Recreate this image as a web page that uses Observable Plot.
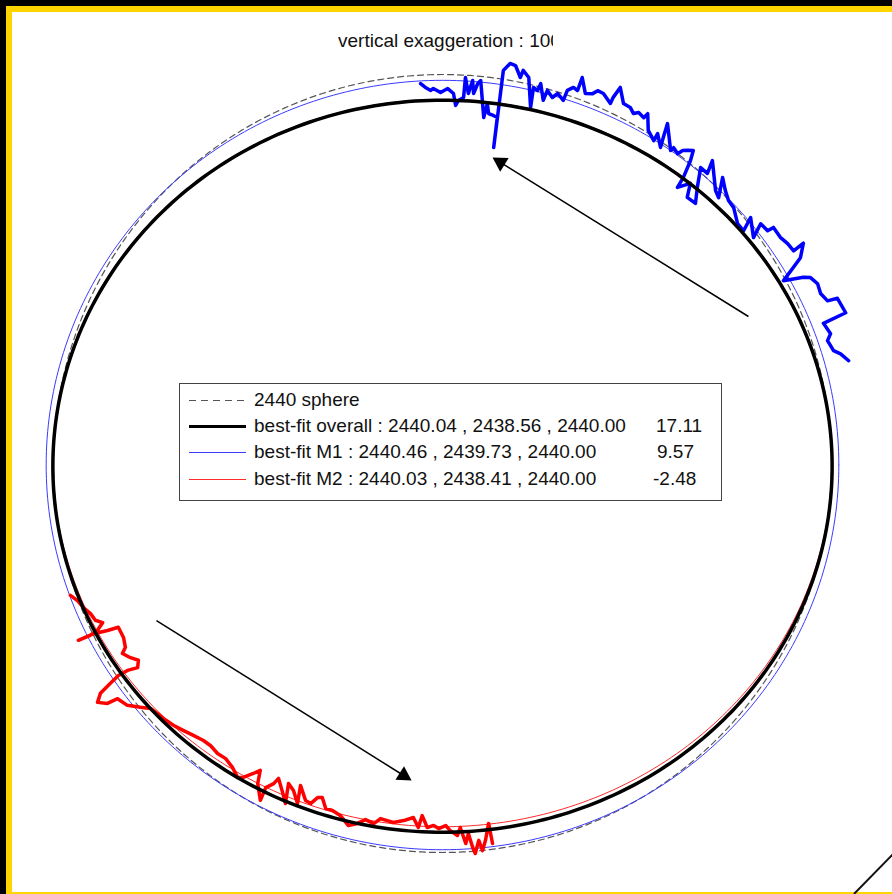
<!DOCTYPE html>
<html><head><meta charset="utf-8">
<script src="https://cdn.jsdelivr.net/npm/d3@7"></script>
<script src="https://cdn.jsdelivr.net/npm/@observablehq/plot@0.6"></script>
<style>
html,body{margin:0;padding:0;background:#fff;}
#wrap{position:relative;width:892px;height:894px;overflow:hidden;font-family:"Liberation Sans",Arial,sans-serif;color:#111;}
#chart{position:absolute;left:0;top:0;}
.deco{position:absolute;}
#title{position:absolute;left:338px;top:29px;width:215px;overflow:hidden;white-space:nowrap;font-size:19px;line-height:24px;}
#legend{position:absolute;left:179px;top:383px;width:541px;height:116px;border:1px solid #444;background:#fff;font-size:19px;}
.row{position:absolute;left:0;width:100%;height:22px;line-height:22px;white-space:nowrap;}
.sample{position:absolute;left:9px;width:57px;top:11px;}
.lbl{position:absolute;left:74px;top:0;}
.num{position:absolute;top:0;}
</style>
</head><body>
<div id="wrap">
  <div id="chart"></div>
  <div id="title">vertical exaggeration : 100</div>
  <div id="legend"></div>
  <div class="deco" style="left:0;top:0;width:892px;height:6px;background:#000"></div>
  <div class="deco" style="left:0;top:0;width:6px;height:894px;background:#000"></div>
  <div class="deco" style="left:6px;top:6px;width:886px;height:6px;background:#FFD500"></div>
  <div class="deco" style="left:6px;top:6px;width:6px;height:888px;background:#FFD500"></div>
  <div class="deco" style="left:6px;top:892px;width:886px;height:2px;background:#FFD500"></div>
  <div class="deco" style="left:854px;top:893px;width:56px;height:2px;background:#111;transform-origin:0 50%;transform:rotate(-45.7deg)"></div>
</div>
<script>
// ---- data ----
const R0 = 2440;          // reference sphere radius (km)
const EXAG = 100;         // vertical exaggeration
const fitNames = ["best-fit overall", "best-fit M1", "best-fit M2"];
const fitA = [2440.04, 2440.46, 2440.03];
const fitB = [2438.56, 2439.73, 2438.41];
const fitC = [2440.00, 2440.00, 2440.00];
const fitOffset = [17.11, 9.57, -2.48];
const fitColors = ["#000000", "#3a3aff", "#ff2a2a"];

// M1 track: polar angle (deg) and elevation relative to 2440 km (km)
const m1Angle = [93.3,92.6,91.8,91.4,90.3,89.2,88.3,87.9,87.5,86.7,86.6,86.0,85.5,85.2,84.7,84.3,83.2,82.9,82.5,81.7,81.0,80.8,81.2,80.4,79.6,78.6,78.4,77.4,76.1,76.4,75.7,75.5,74.5,74.3,73.3,72.7,71.6,71.5,70.8,70.1,70.1,68.9,67.9,67.4,66.5,65.0,65.0,64.7,63.3,62.2,61.4,60.8,59.8,59.6,58.3,56.8,56.9,55.4,55.9,56.5,53.9,53.8,52.8,52.5,52.0,51.3,50.7,49.9,49.6,48.5,47.4,45.8,47.3,48.9,47.6,48.3,45.0,43.9,45.6,44.0,42.6,41.3,39.1,37.7,38.6,36.0,37.0,35.6,35.5,33.8,32.5,31.2,31.4,29.9,29.2,28.2,27.3,26.8,25.6,24.2,22.9,22.7,20.5,20.2,18.5,17.7,16.1,15.4,14.2];
const m1Elev = [-0.53,-0.79,-0.99,-0.87,-1.13,-0.88,-1.18,-1.93,-1.61,-1.40,-0.15,-1.13,-0.30,-1.11,-0.46,-0.26,-2.55,-1.64,-2.26,-2.34,-2.43,-4.32,0.55,1.05,0.98,0.30,0.77,0.41,-1.40,-0.13,-0.26,0.21,-0.76,-0.09,-0.43,-0.09,-0.40,0.28,0.58,0.48,1.35,0.48,0.64,0.93,0.91,0.52,0.94,1.69,0.87,0.85,0.61,0.82,0.70,1.04,0.16,-0.20,0.31,-0.32,0.31,1.17,-0.11,0.15,0.00,0.34,0.53,0.76,0.16,-0.94,-1.66,-0.94,-1.72,-1.64,-0.83,0.23,0.24,1.05,-0.18,-0.36,0.71,0.26,-0.03,-0.09,-0.55,-0.53,0.33,-0.29,0.59,0.68,1.10,1.10,1.27,1.35,2.12,1.50,0.82,-0.13,1.07,1.46,1.69,1.60,1.82,2.45,2.60,1.06,1.27,0.95,1.13,1.50,1.88];

// M2 track
const m2Angle = [199.5,200.6,201.9,203.1,204.3,205.1,205.8,206.0,205.9,206.0,206.5,206.8,208.6,210.1,210.7,211.9,212.9,213.8,213.3,213.2,213.5,213.9,214.7,215.6,215.9,217.5,218.9,220.0,221.3,222.4,224.2,225.9,227.5,229.2,230.6,232.2,233.7,235.4,236.9,237.6,238.6,239.3,240.0,241.6,241.4,242.2,242.5,244.1,245.2,244.3,245.5,246.9,246.2,247.9,248.8,249.5,250.2,251.3,252.4,253.8,255.4,256.7,257.8,259.2,260.1,262.2,263.8,265.3,266.2,266.7,267.6,268.6,269.4,270.5,271.2,272.3,272.8,273.5,274.0,274.5,274.8,275.5,275.9,276.5,277.3,277.5];
const m2Elev = [0.36,0.06,-0.14,-0.40,-0.51,-0.86,-0.36,0.18,0.99,-0.05,-0.92,-1.62,-1.61,-1.41,-1.05,-1.35,-1.68,-1.39,-0.76,-0.11,0.58,1.45,1.92,1.45,0.76,0.52,-0.05,-0.49,-0.62,-0.69,-0.85,-1.07,-1.27,-1.45,-1.49,-1.38,-1.43,-1.22,-0.88,-1.08,-1.62,-2.01,-1.22,-0.38,-1.24,-1.70,-2.13,-1.45,-0.91,-2.13,-1.86,-1.22,-2.33,-1.58,-1.52,-2.03,-2.14,-1.55,-1.57,-1.41,-0.94,-1.20,-1.55,-1.40,-1.79,-1.67,-1.87,-2.12,-1.52,-2.28,-1.55,-1.69,-1.50,-1.69,-1.37,-1.05,-1.54,-0.52,-1.13,-0.24,0.15,-0.65,0.01,-0.60,-1.64,-0.36];

// annotation arrows (plot km coordinates)
const arrowTailX = [1919, -1794];
const arrowTailY = [922, -985];
const arrowTipX = [314, -194];
const arrowTipY = [1919, -1988];

// ---- frame ----
const W = 892, H = 894;
const PX_PER_KM = 389 / R0;
const CX = 442, CY = 463;
const xDomain = [-CX / PX_PER_KM, (W - CX) / PX_PER_KM];
const yDomain = [-(H - CY) / PX_PER_KM, CY / PX_PER_KM];

const rad = Math.PI / 180;
function ellipse(a, b, off) {
  const A = R0 + EXAG * (a - R0), B = R0 + EXAG * (b - R0);
  return d3.range(0, 361, 1).map(t => ({x: A * Math.cos(t * rad), y: B * Math.sin(t * rad) - off}));
}
function track(ang, elev) {
  return ang.map((t, i) => {
    const R = R0 + EXAG * elev[i];
    return {x: R * Math.cos(t * rad), y: R * Math.sin(t * rad)};
  });
}
const sphere = ellipse(R0, R0, 0);
const fits = fitNames.map((n, i) => ellipse(fitA[i], fitB[i], fitOffset[i]));
const m1 = track(m1Angle, m1Elev);
const m2 = track(m2Angle, m2Elev);

const headBack = 9.3 / PX_PER_KM;
const arrows = arrowTailX.map((x, i) => {
  const dx = arrowTipX[i] - x, dy = arrowTipY[i] - arrowTailY[i];
  const L = Math.hypot(dx, dy);
  return {x1: x, y1: arrowTailY[i], hx: arrowTipX[i] - dx / L * headBack, hy: arrowTipY[i] - dy / L * headBack,
          rot: Math.atan2(dx, dy) / rad};
});

const chart = Plot.plot({
  width: W, height: H, margin: 0,
  x: {domain: xDomain, axis: null},
  y: {domain: yDomain, axis: null},
  style: {background: "transparent"},
  marks: [
    Plot.line(sphere, {x: "x", y: "y", stroke: "#555", strokeWidth: 1.2, strokeDasharray: "6,4"}),
    Plot.line(fits[1], {x: "x", y: "y", stroke: fitColors[1], strokeWidth: 1}),
    Plot.line(fits[2], {x: "x", y: "y", stroke: fitColors[2], strokeWidth: 1}),
    Plot.line(m1, {x: "x", y: "y", stroke: "#0000ff", strokeWidth: 3.5, strokeLinejoin: "round"}),
    Plot.line(m2, {x: "x", y: "y", stroke: "#ff0000", strokeWidth: 3.5, strokeLinejoin: "round"}),
    Plot.line(fits[0], {x: "x", y: "y", stroke: fitColors[0], strokeWidth: 3.5}),
    Plot.link(arrows, {x1: "x1", y1: "y1", x2: "hx", y2: "hy", stroke: "#000", strokeWidth: 1.5}),
    Plot.dot(arrows, {x: "hx", y: "hy", symbol: "triangle", r: 6, fill: "#000", stroke: "none", rotate: "rot"})
  ]
});
document.getElementById("chart").appendChild(chart);

// ---- legend ----
const fmt = v => v.toFixed(2);
const legendRows = [
  {label: "2440 sphere", num: null, sample: "dash"},
  ...fitNames.map((n, i) => ({label: `${n} : ${fmt(fitA[i])} , ${fmt(fitB[i])} , ${fmt(fitC[i])}`, num: fmt(fitOffset[i]), color: fitColors[i], width: i === 0 ? 3 : 1}))
];
const numLeft = [null, 476, 477, 473];
const rowTops = [5, 31, 57, 84];
const leg = document.getElementById("legend");
legendRows.forEach((r, i) => {
  const row = document.createElement("div");
  row.className = "row";
  row.style.top = rowTops[i] + "px";
  const s = document.createElement("div");
  s.className = "sample";
  if (r.sample === "dash") {
    s.style.height = "1px";
    s.style.background = "repeating-linear-gradient(to right,#555 0 7px,transparent 7px 12px)";
  } else {
    s.style.height = r.width + "px";
    s.style.marginTop = (-Math.floor(r.width / 2)) + "px";
    s.style.background = r.color;
  }
  row.appendChild(s);
  const l = document.createElement("span");
  l.className = "lbl"; l.textContent = r.label;
  row.appendChild(l);
  if (r.num) {
    const n = document.createElement("span");
    n.className = "num"; n.textContent = r.num; n.style.left = numLeft[i] + "px";
    row.appendChild(n);
  }
  leg.appendChild(row);
});
</script>
</body></html>
